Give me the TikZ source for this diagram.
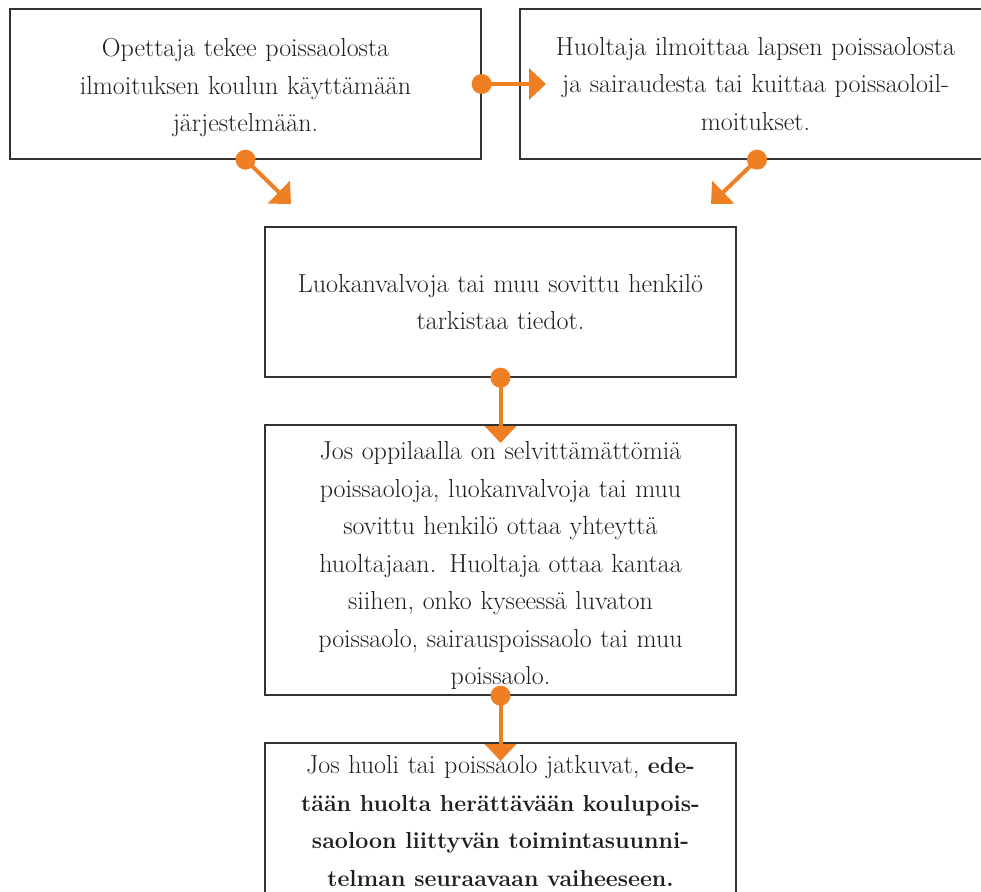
\documentclass[tikz,border=0pt]{standalone}
\usetikzlibrary{arrows.meta}
\definecolor{orng}{HTML}{EE7F22}
\definecolor{boxline}{HTML}{333333}
\definecolor{txt}{HTML}{1E1E1E}
\newcommand{\bt}[1]{{\fontsize{23.2}{37.5}\selectfont\bfseries #1}}
\begin{document}
\begin{tikzpicture}[x=1pt,y=-1pt,
  box/.style={draw=boxline,line width=1.3pt,minimum width=471pt,text width=465pt,inner sep=0pt,align=center,text=txt,
    font=\fontsize{26}{37.5}\selectfont},
  conn/.style={draw=orng,line width=4pt,-{Triangle[length=17pt,width=31pt]}},
  dot/.style={fill=orng}]
\useasboundingbox (0,0) rectangle (981,891);
\node[box,minimum height=150pt] (b1) at (245.5,84) {\rule{0pt}{26pt}Opettaja tekee poissaolosta\\ilmoituksen koulun käyttämään\\järjestelmään.};
\node[box,minimum height=150pt] (b2) at (755.5,84) {Huoltaja ilmoittaa lapsen poissaolosta\\ja sairaudesta tai kuittaa poissaoloil-\\moitukset.};
\node[box,minimum height=150pt] (b3) at (500.5,302) {Luokanvalvoja tai muu sovittu henkilö\\tarkistaa tiedot.};
\node[box,minimum height=270pt] (b4) at (500.5,560) {\rule{0pt}{30pt}Jos oppilaalla on selvittämättömiä\\poissaoloja, luokanvalvoja tai muu\\sovittu henkilö ottaa yhteyttä\\huoltajaan. Huoltaja ottaa kantaa\\siihen, onko kyseessä luvaton\\poissaolo, sairauspoissaolo tai muu\\poissaolo.};
\node[box,minimum height=156pt] (b5) at (500.5,821) {Jos huoli tai poissaolo jatkuvat, \bt{ede-}\\\bt{tään huolta herättävään koulupois-}\\\bt{saoloon liittyvän toimintasuunni-}\\\bt{telman seuraavaan vaiheeseen.}};
\coordinate (t12) at (546,84);
\coordinate (t13) at (291,204);
\coordinate (t23) at (711,204);
\coordinate (t34) at (500.5,443);
\coordinate (t45) at (500.5,761);
\draw[conn] (b1.east) -- (t12);
\draw[conn] (b1.south) -- (t13);
\draw[conn] (b2.south -| 757,0) -- (t23);
\draw[conn] (b3.south) -- (t34);
\draw[conn] (b4.south) -- (t45);
\fill[dot] (b1.east) circle (10pt);
\fill[dot] (b1.south) circle (10pt);
\fill[dot] (b2.south -| 757,0) circle (10pt);
\fill[dot] (b3.south) circle (10pt);
\fill[dot] (b4.south) circle (10pt);
\end{tikzpicture}
\end{document}
